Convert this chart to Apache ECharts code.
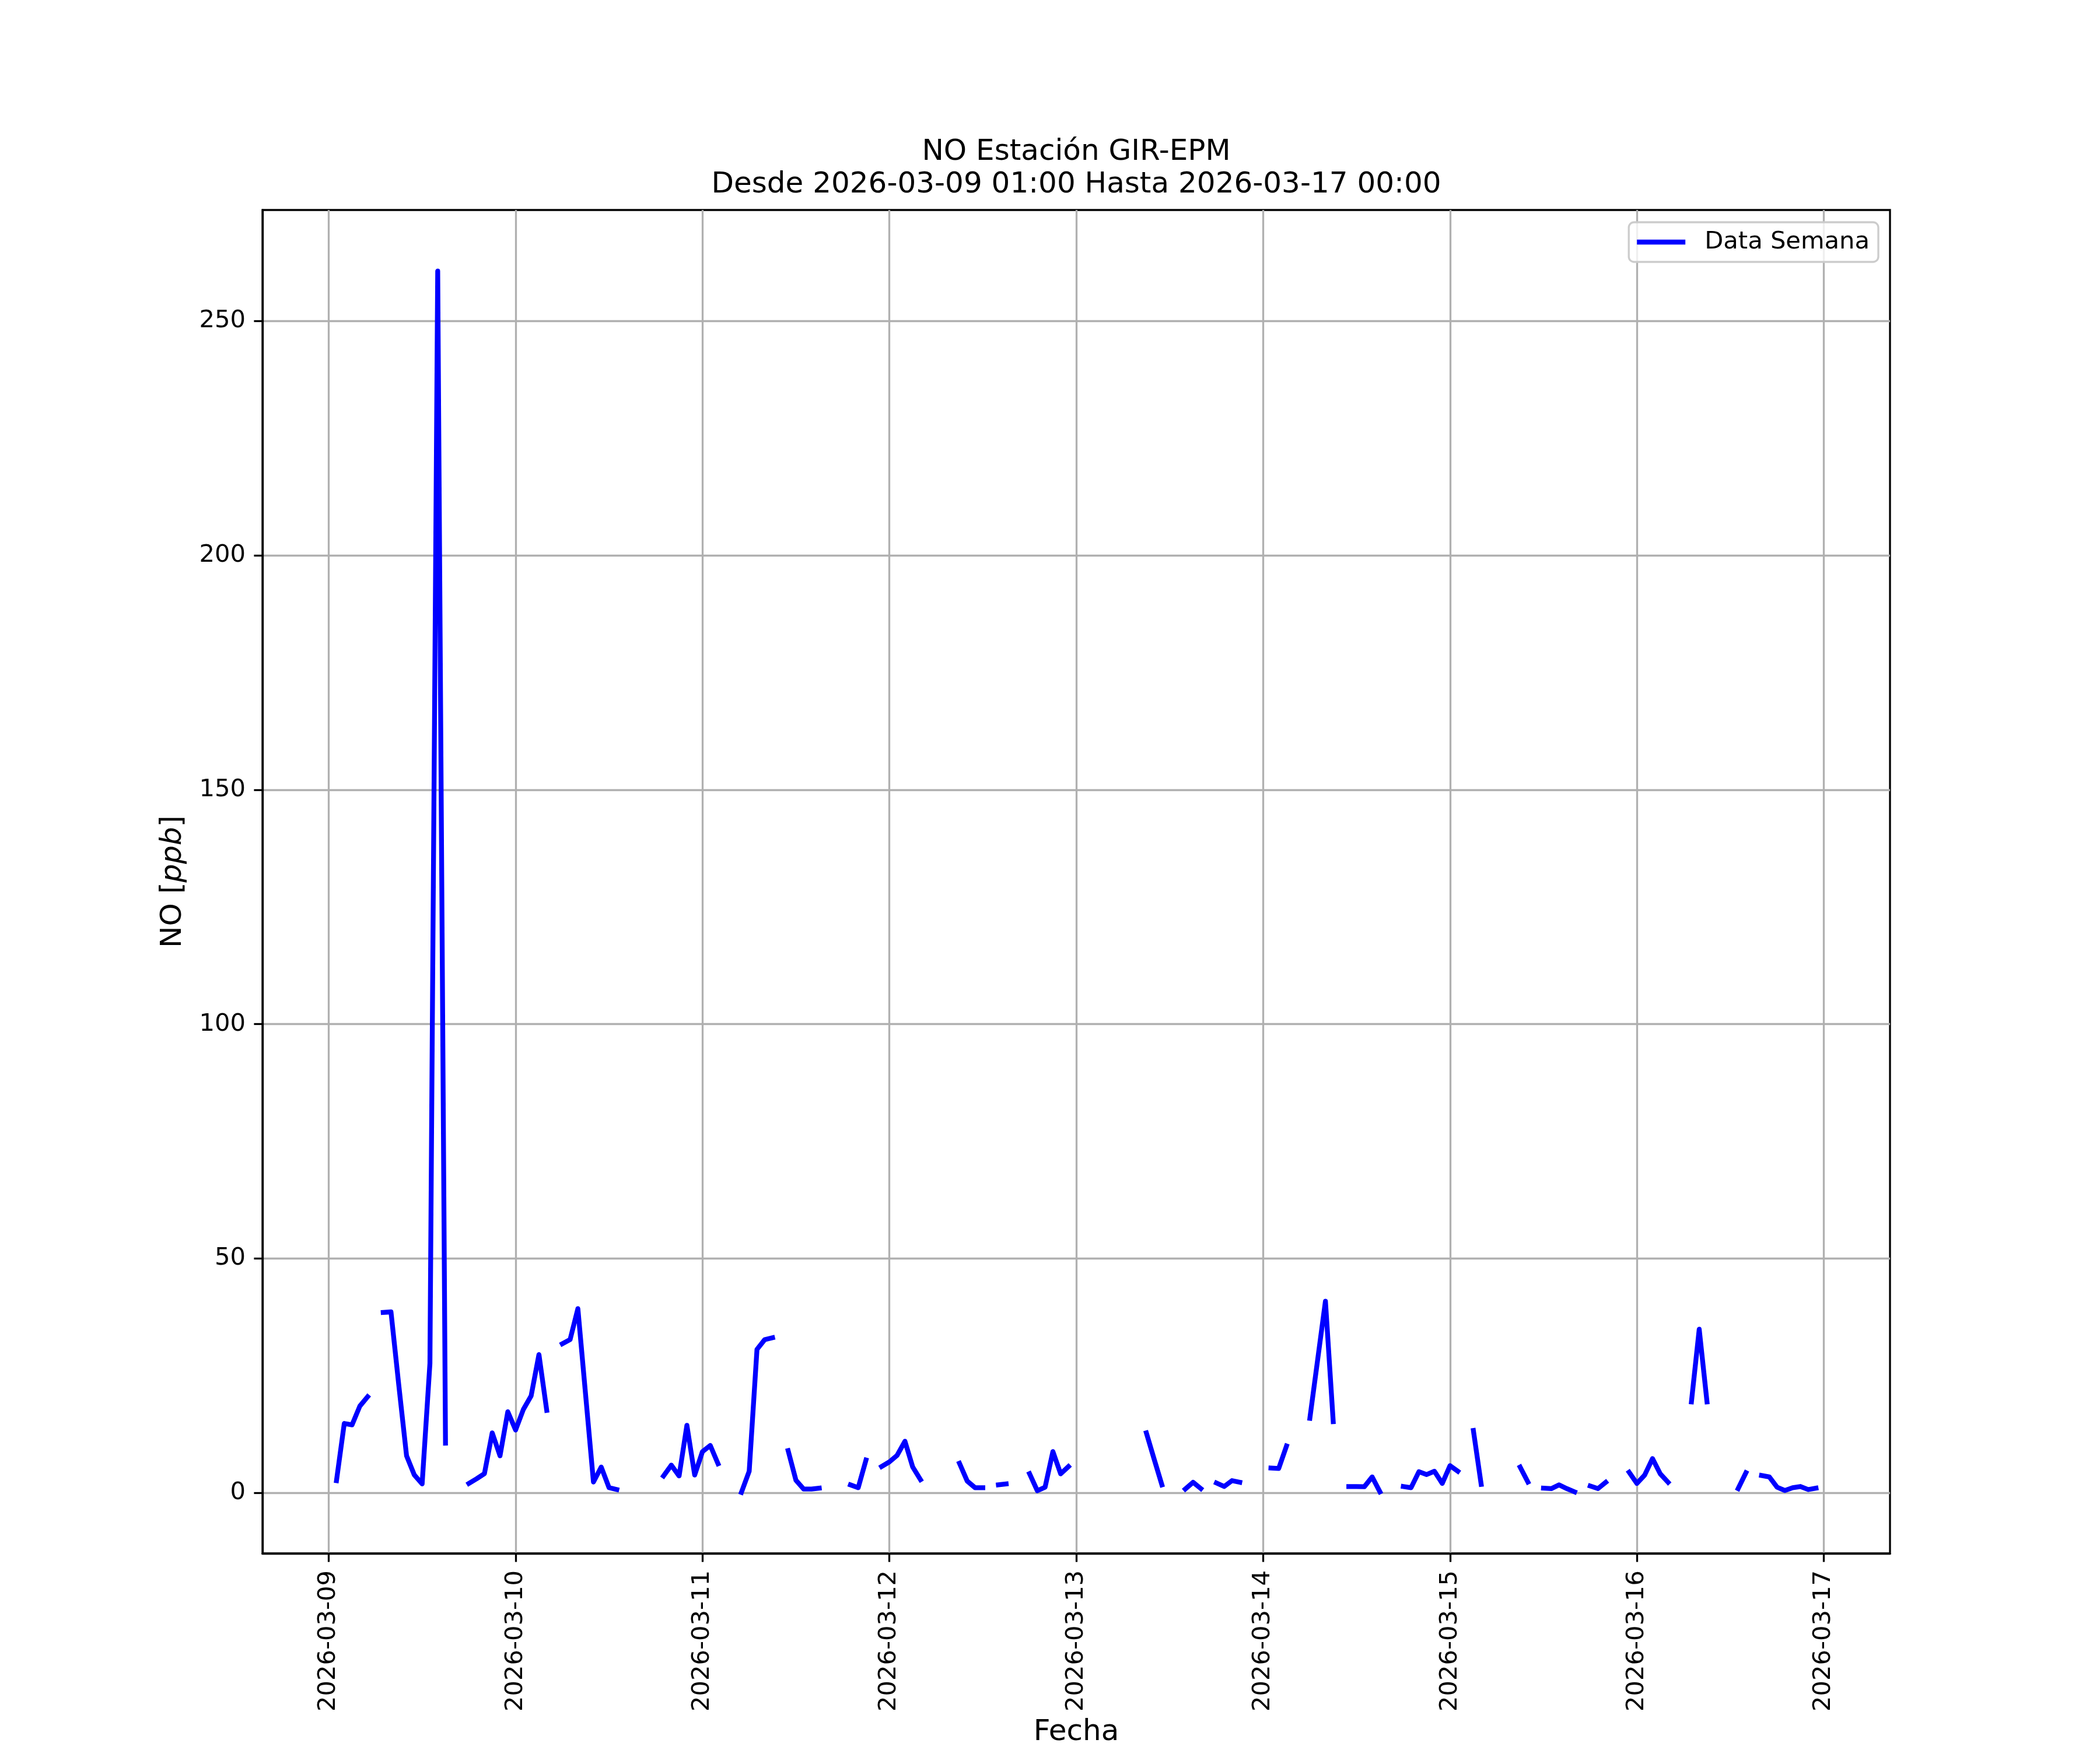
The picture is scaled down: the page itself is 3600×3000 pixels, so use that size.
<!DOCTYPE html>
<html>
<head>
<meta charset="utf-8">
<script src="https://cdn.jsdelivr.net/npm/echarts@6/dist/echarts.min.js"></script>
<style>
html,body{margin:0;padding:0;background:#ffffff;}
#chart{width:3600px;height:3000px;}
</style>
</head>
<body>
<div id="chart"></div>
<script>
// ---- data (hourly NO in ppb) ----
const dayLabels = ['2026-03-09','2026-03-10','2026-03-11','2026-03-12','2026-03-13','2026-03-14','2026-03-15','2026-03-16','2026-03-17'];
const yTickValues = [0, 50, 100, 150, 200, 250];
const seriesName = 'Data Semana';
const firstHour = 1; // first value is 2026-03-09 01:00

// 2026-03-09 01:00 .. 23:00
const d09 = [2.6, 14.8, 14.5, 18.5, 20.5, null, 38.5, 38.6, 23.0, 7.9, 3.8, 1.9, 27.6, 260.7, 10.6, null, null, 2.0, 3.0, 4.1, 12.8, 7.9, 17.3];
// 2026-03-10 00:00 .. 23:00
const d10 = [13.4, 17.8, 20.7, 29.5, 17.6, null, 31.8, 32.7, 39.3, 20.8, 2.3, 5.5, 1.1, 0.7, null, null, null, null, null, 3.6, 5.9, 3.6, 14.4, 3.8];
const d11 = [8.8, 10.1, 6.2, null, null, 0.1, 4.6, 30.6, 32.7, 33.1, null, 9.0, 2.7, 0.8, 0.8, 1.0, null, null, null, 1.7, 1.1, 7.0, null, 5.6];
const d12 = [6.6, 8.0, 11.0, 5.5, 2.8, null, null, null, null, 6.3, 2.5, 1.1, 1.1, null, 1.7, 1.9, null, null, 4.1, 0.45, 1.2, 8.8, 4.05, 5.6];
const d13 = [null, null, null, null, null, null, null, null, null, 12.8, 7.2, 1.7, null, null, 0.8, 2.25, 0.9, null, 2.1, 1.35, 2.6, 2.25, null, null];
const d14 = [null, 5.3, 5.2, 10.0, null, null, 15.9, 28.4, 40.9, 15.2, null, 1.35, 1.35, 1.3, 3.4, 0.2, null, null, 1.35, 1.1, 4.5, 3.9, 4.6, 2.0];
const d15 = [5.8, 4.6, null, 13.3, 1.8, null, null, null, null, 5.5, 2.3, null, 1.0, 0.9, 1.7, 0.9, 0.2, null, 1.45, 0.9, 2.25, null, null, 4.4];
const d16 = [2.0, 3.8, 7.3, 4.05, 2.25, null, null, 19.4, 34.9, 19.4, null, null, null, 0.9, 4.3, null, 3.7, 3.4, 1.2, 0.5, 1.1, 1.35, 0.7, 1.0];

// ---- build series (x = hours since 2026-03-09 00:00) ----
const allValues = [].concat(d09, d10, d11, d12, d13, d14, d15, d16);
const seriesData = allValues.map((v, i) => [firstHour + i, v]);

const xs = seriesData.map(p => p[0]);
const xFirst = xs[0], xLast = xs[xs.length - 1];
const xPad = 0.05 * (xLast - xFirst);
const finite = allValues.filter(v => v !== null);
const yLo = Math.min.apply(null, finite), yHi = Math.max.apply(null, finite);
const yPad = 0.05 * (yHi - yLo);

const FONT = 'DejaVu Sans';
const PT = 300 / 72;
const dayTickValues = dayLabels.map((_, i) => i * 24);

const chart = echarts.init(document.getElementById('chart'), null, {renderer: 'canvas'});
chart.setOption({
  backgroundColor: '#ffffff',
  animation: false,
  title: {
    text: 'NO Estación GIR-EPM\nDesde 2026-03-09 01:00 Hasta 2026-03-17 00:00',
    left: 1845,
    top: 233,
    textAlign: 'center',
    padding: 0,
    textStyle: {fontFamily: FONT, fontSize: 12 * PT, fontWeight: 'normal', color: '#000000', lineHeight: 56}
  },
  legend: {
    data: [seriesName],
    right: 380,
    top: 381,
    icon: 'rect',
    itemWidth: 83,
    itemHeight: 8.5,
    padding: [13, 15, 13, 14],
    backgroundColor: 'rgba(255,255,255,0.8)',
    borderColor: '#cccccc',
    borderWidth: 3.3,
    borderRadius: 9,
    textStyle: {fontFamily: FONT, fontSize: 10 * PT, color: '#000000', padding: [0, 0, 0, 28]}
  },
  grid: {
    left: 450, top: 360, width: 2790, height: 2310,
    show: true, borderColor: '#000000', borderWidth: 3.3, backgroundColor: 'transparent'
  },
  xAxis: {
    type: 'value',
    min: xFirst - xPad,
    max: xLast + xPad,
    name: 'Fecha',
    nameLocation: 'middle',
    nameGap: 282,
    nameTextStyle: {fontFamily: FONT, fontSize: 12 * PT, color: '#000000'},
    axisLine: {show: true, onZero: false, lineStyle: {color: '#000000', width: 3.3}},
    axisTick: {show: true, inside: false, length: 14.6, customValues: dayTickValues, lineStyle: {color: '#000000', width: 3.3}},
    axisLabel: {
      show: true, rotate: 90, margin: 29, customValues: dayTickValues,
      fontFamily: FONT, fontSize: 10 * PT, color: '#000000',
      formatter: v => dayLabels[Math.round(v / 24)]
    },
    splitLine: {show: true, lineStyle: {color: '#b0b0b0', width: 3.3}}
  },
  yAxis: {
    type: 'value',
    min: yLo - yPad,
    max: yHi + yPad,
    name: 'NO [{i|ppb}]',
    nameLocation: 'middle',
    nameRotate: 90,
    nameGap: 128,
    nameTextStyle: {
      fontFamily: FONT, fontSize: 12 * PT, color: '#000000',
      rich: {i: {fontFamily: FONT, fontSize: 12 * PT, fontStyle: 'italic', color: '#000000'}}
    },
    axisLine: {show: true, onZero: false, lineStyle: {color: '#000000', width: 3.3}},
    axisTick: {show: true, inside: false, length: 14.6, customValues: yTickValues, lineStyle: {color: '#000000', width: 3.3}},
    axisLabel: {show: true, margin: 29, customValues: yTickValues, fontFamily: FONT, fontSize: 10 * PT, color: '#000000'},
    splitLine: {show: true, lineStyle: {color: '#b0b0b0', width: 3.3}}
  },
  series: [{
    name: seriesName,
    type: 'line',
    data: seriesData,
    color: '#0000ff',
    showSymbol: false,
    symbol: 'none',
    connectNulls: false,
    z: 3,
    lineStyle: {color: '#0000ff', width: 8.3, cap: 'square', join: 'round'}
  }]
});
</script>
</body>
</html>
